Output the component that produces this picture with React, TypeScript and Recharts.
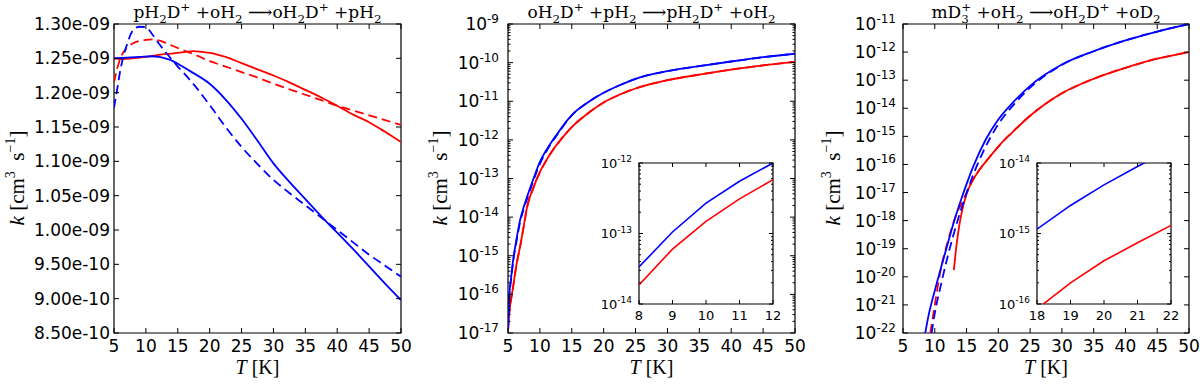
import React from 'react';
import { LineChart, Line, XAxis, YAxis, ReferenceArea } from 'recharts';

type Pt = [number, number];

// left panel: pH2D+ + oH2 -> oH2D+ + pH2 (linear k)
const p1BlueSolid: Pt[] = [
  [5, 1.25e-9], [7, 1.251e-9], [9, 1.252e-9], [11, 1.253e-9], [12, 1.252e-9], [13, 1.25e-9],
  [14, 1.247e-9], [15, 1.242e-9], [17, 1.231e-9], [20, 1.213e-9], [22.5, 1.19e-9], [25, 1.162e-9],
  [27.5, 1.13e-9], [30, 1.097e-9], [32.5, 1.07e-9], [35, 1.045e-9], [37.5, 1.02e-9], [40, 0.996e-9],
  [42.5, 0.972e-9], [45, 0.947e-9], [47.5, 0.922e-9], [50, 0.898e-9],
];
const p1BlueDash: Pt[] = [
  [5, 1.178e-9], [5.5, 1.205e-9], [6, 1.233e-9], [7, 1.269e-9], [8, 1.291e-9], [9, 1.296e-9],
  [10, 1.2955e-9], [11, 1.285e-9], [12, 1.272e-9], [13, 1.26e-9], [14, 1.249e-9], [15, 1.238e-9],
  [16, 1.228e-9], [17.5, 1.212e-9], [20, 1.182e-9], [22.5, 1.15e-9], [25, 1.121e-9], [27.5, 1.096e-9],
  [30, 1.073e-9], [32.5, 1.054e-9], [35, 1.036e-9], [37.5, 1.018e-9], [40, 1.0e-9], [42.5, 0.982e-9],
  [45, 0.964e-9], [47.5, 0.948e-9], [50, 0.932e-9],
];
const p1RedSolid: Pt[] = [
  [5, 1.25e-9], [6, 1.249e-9], [8, 1.25e-9], [10, 1.252e-9], [12, 1.255e-9], [14, 1.257e-9],
  [16, 1.259e-9], [17.5, 1.2605e-9], [19, 1.259e-9], [20, 1.258e-9], [22.5, 1.252e-9], [25, 1.243e-9],
  [27.5, 1.234e-9], [30, 1.225e-9], [32.5, 1.215e-9], [35, 1.204e-9], [37.5, 1.193e-9], [40, 1.181e-9],
  [42.5, 1.168e-9], [45, 1.157e-9], [47.5, 1.143e-9], [50, 1.128e-9],
];
const p1RedDash: Pt[] = [
  [5, 1.215e-9], [5.5, 1.235e-9], [6, 1.25e-9], [7, 1.265e-9], [8, 1.272e-9], [9, 1.2755e-9],
  [10, 1.277e-9], [11, 1.2775e-9], [12, 1.276e-9], [13, 1.273e-9], [14, 1.269e-9], [15, 1.265e-9],
  [17.5, 1.256e-9], [20, 1.246e-9], [22.5, 1.238e-9], [25, 1.23e-9], [27.5, 1.222e-9], [30, 1.213e-9],
  [32.5, 1.205e-9], [35, 1.197e-9], [37.5, 1.189e-9], [40, 1.181e-9], [42.5, 1.174e-9], [45, 1.167e-9],
  [47.5, 1.16e-9], [50, 1.153e-9],
];
const p1Ticks = [8.5e-10, 9.0e-10, 9.5e-10, 1.0e-9, 1.05e-9, 1.1e-9, 1.15e-9, 1.2e-9, 1.25e-9, 1.3e-9];
const p1TickLabels = ['8.50e-10', '9.00e-10', '9.50e-10', '1.00e-09', '1.05e-09', '1.10e-09', '1.15e-09', '1.20e-09', '1.25e-09', '1.30e-09'];

// middle panel: oH2D+ + pH2 -> pH2D+ + oH2
const p2Blue: Pt[] = [
  [5, 1.26e-17], [5.2, 8.9e-17], [5.5, 2.8e-16], [5.8, 7.6e-16], [6.3, 2.5e-15], [6.9, 8.5e-15],
  [7.5, 1.9e-14], [8, 3.4e-14], [9, 1.0e-13], [10, 2.7e-13], [11, 5.4e-13], [12, 9.8e-13],
  [13, 1.66e-12], [14, 2.8e-12], [15, 4.4e-12], [17.5, 9.3e-12], [20, 1.66e-11], [22.5, 2.6e-11],
  [25, 3.8e-11], [30, 6.0e-11], [35, 8.1e-11], [40, 1.07e-10], [45, 1.38e-10], [50, 1.7e-10],
];
const p2BlueDash: Pt[] = [
  [5, 1.26e-17], [5.2, 8.0e-17], [5.5, 2.5e-16], [5.8, 6.8e-16], [6.3, 2.2e-15], [6.9, 7.4e-15],
  [7.5, 1.7e-14], [8, 3.0e-14], [9, 8.9e-14], [10, 2.4e-13], [11, 5.0e-13], [12, 9.2e-13],
  [13, 1.58e-12], [14, 2.7e-12], [15, 4.3e-12], [17.5, 9.3e-12], [20, 1.66e-11], [22.5, 2.6e-11],
  [25, 3.8e-11], [30, 6.0e-11], [35, 8.1e-11], [40, 1.07e-10], [45, 1.38e-10], [50, 1.7e-10],
];
const p2Red: Pt[] = [
  [5, 1.12e-17], [5.2, 3.3e-17], [5.5, 7.9e-17], [5.8, 1.58e-16], [6.3, 5.6e-16], [6.9, 1.74e-15],
  [7.5, 6.3e-15], [8, 1.86e-14], [9, 5.9e-14], [10, 1.48e-13], [11, 2.95e-13], [12, 5.4e-13],
  [13, 8.9e-13], [14, 1.41e-12], [15, 2.14e-12], [17.5, 4.8e-12], [20, 9.3e-12], [22.5, 1.48e-11],
  [25, 2.14e-11], [30, 3.5e-11], [35, 4.9e-11], [40, 6.6e-11], [45, 8.5e-11], [50, 1.05e-10],
];
const p2RedDash: Pt[] = [
  [5, 1.12e-17], [5.2, 3.2e-17], [5.5, 7.6e-17], [5.8, 1.52e-16], [6.3, 5.4e-16], [6.9, 1.7e-15],
  [7.5, 6.1e-15], [8, 1.8e-14], [9, 5.8e-14], [10, 1.45e-13], [11, 2.9e-13], [12, 5.3e-13],
  [13, 8.9e-13], [14, 1.41e-12], [15, 2.14e-12], [17.5, 4.8e-12], [20, 9.3e-12], [22.5, 1.48e-11],
  [25, 2.14e-11], [30, 3.5e-11], [35, 4.9e-11], [40, 6.6e-11], [45, 8.5e-11], [50, 1.05e-10],
];
const p2Exps = [-17, -16, -15, -14, -13, -12, -11, -10, -9];

// middle inset (T = 8..12)
const in2Blue: Pt[] = [[8, 3.35e-14], [9, 1.05e-13], [10, 2.7e-13], [11, 5.5e-13], [12, 1.0e-12]];
const in2Red: Pt[] = [[8, 1.86e-14], [9, 6.0e-14], [10, 1.49e-13], [11, 3.1e-13], [12, 5.8e-13]];
const in2Exps = [-14, -13, -12];

// right panel: mD3+ + oH2 -> oH2D+ + oD2
const p3Blue: Pt[] = [
  [8.5, 1.0e-22], [9, 4.0e-22], [10, 3.2e-21], [11, 2.2e-20], [12, 1.4e-19], [13, 8.9e-19],
  [14, 4.5e-18], [15, 2.0e-17], [16, 7.9e-17], [18, 7.6e-16], [20, 4.0e-15], [22.5, 1.8e-14],
  [25, 6.3e-14], [30, 3.6e-13], [35, 1.07e-12], [40, 2.6e-12], [45, 5.4e-12], [50, 1.0e-11],
];
const p3BlueDash: Pt[] = [
  [9.5, 1.0e-22], [10, 5.0e-22], [11, 5.6e-21], [12, 5.0e-20], [13, 3.5e-19], [14, 2.0e-18],
  [15, 9.5e-18], [16, 4.0e-17], [17.5, 2.5e-16], [20, 2.7e-15], [22.5, 1.41e-14], [25, 5.4e-14],
  [30, 3.5e-13], [35, 1.07e-12], [40, 2.6e-12], [45, 5.4e-12], [50, 1.0e-11],
];
const p3Red: Pt[] = [
  [13, 1.74e-20], [13.3, 7.9e-20], [13.7, 4.0e-19], [14.2, 1.78e-18], [15, 8.9e-18], [16, 2.8e-17],
  [17, 6.3e-17], [18.5, 1.7e-16], [20, 4.3e-16], [21, 7.6e-16], [22, 1.26e-15], [25, 5.4e-15],
  [30, 3.4e-14], [35, 1.12e-13], [40, 2.75e-13], [45, 5.8e-13], [50, 1.0e-12],
];
const p3RedDash: Pt[] = [
  [9.3, 1.0e-22], [10, 1.0e-21], [10.8, 1.26e-20], [12.1, 2.0e-19], [13.7, 2.4e-18], [14.5, 5.4e-18],
  [15, 1.0e-17], [16, 2.8e-17], [17, 6.3e-17], [18.5, 1.7e-16], [20, 4.3e-16], [21, 7.6e-16],
  [22, 1.26e-15], [25, 5.4e-15], [30, 3.4e-14], [35, 1.12e-13], [40, 2.75e-13], [45, 5.8e-13], [50, 1.0e-12],
];
const p3Exps = [-22, -21, -20, -19, -18, -17, -16, -15, -14, -13, -12, -11];

// right inset (T = 18..22)
const in3Blue: Pt[] = [[18, 1.15e-15], [19, 2.5e-15], [20, 4.9e-15], [21, 8.9e-15], [22, 1.6e-14]];
const in3Red: Pt[] = [[18, 8.5e-17], [19, 2.0e-16], [20, 4.1e-16], [21, 7.4e-16], [22, 1.3e-15]];
const in3Exps = [-16, -15, -14];

const mainXTicks = [5, 10, 15, 20, 25, 30, 35, 40, 45, 50];

const BLUE = '#0000ff';
const RED = '#ff0000';
const SANS = 'DejaVu Sans, sans-serif';
const SERIF = 'Liberation Serif, DejaVu Serif, serif';
const TITLE_FONT = 'DejaVu Serif, serif';

const toRows = (pts: Pt[]) => pts.map(([T, k]) => ({ T, k }));
const decades = (exps: number[]) => exps.map((e) => Math.pow(10, e));
const minorTicks = (exps: number[]) =>
  exps.slice(0, -1).flatMap((e) => [2, 3, 4, 5, 6, 7, 8, 9].map((m) => m * Math.pow(10, e)));

type Series = { pts: Pt[]; color: string; dashed?: boolean; width?: number; linear?: boolean };

type PanelProps = {
  left: number; top: number; plotW: number; plotH: number; yW: number; mt: number; xH: number; mr: number;
  xDomain: [number, number]; xTicks: number[];
  yDomain: [number, number]; log: boolean; yTicks: number[]; yMinor: number[]; yLabels: string[];
  series: Series[];
  font: number; supFont: number; majorLen: number; minorLen: number; yGap: number; xBase: number;
  white?: boolean;
};

function Panel(p: PanelProps) {
  const box = { left: p.yW, right: p.yW + p.plotW, top: p.mt, bottom: p.mt + p.plotH };
  const width = p.yW + p.plotW + p.mr;
  const height = p.mt + p.plotH + p.xH;
  const allY = [...p.yTicks, ...p.yMinor].sort((a, b) => a - b);

  const yTick = (props: any) => {
    const { y, payload } = props;
    const idx = p.yTicks.findIndex((m) => Math.abs(payload.value / m - 1) < 1e-6);
    const len = idx >= 0 ? p.majorLen : p.minorLen;
    return (
      <g>
        <line x1={box.left} x2={box.left + len} y1={y} y2={y} stroke="#000" strokeWidth={1} />
        <line x1={box.right - len} x2={box.right} y1={y} y2={y} stroke="#000" strokeWidth={1} />
        {idx >= 0 && (
          <text x={box.left - p.yGap} y={y + p.font * 0.36} textAnchor="end" fontFamily={SANS} fontSize={p.font} fill="#000">
            {p.log ? '10' : p.yLabels[idx]}
            {p.log && (
              <tspan dy={-p.font * 0.42} fontSize={p.supFont}>{p.yLabels[idx]}</tspan>
            )}
          </text>
        )}
      </g>
    );
  };

  const xTick = (props: any) => {
    const { x, payload } = props;
    return (
      <g>
        <line x1={x} x2={x} y1={box.bottom} y2={box.bottom - p.majorLen} stroke="#000" strokeWidth={1} />
        <line x1={x} x2={x} y1={box.top} y2={box.top + p.majorLen} stroke="#000" strokeWidth={1} />
        <text x={x} y={box.bottom + p.xBase} textAnchor="middle" fontFamily={SANS} fontSize={p.font} fill="#000">
          {payload.value}
        </text>
      </g>
    );
  };

  return (
    <>
      {p.white && (
        <div style={{ position: 'absolute', left: p.left, top: p.top, width: p.plotW, height: p.plotH, background: '#fff' }} />
      )}
      <div style={{ position: 'absolute', left: p.left - p.yW, top: p.top - p.mt }}>
        <LineChart width={width} height={height} margin={{ top: p.mt, right: p.mr, bottom: 0, left: 0 }}>
          <XAxis dataKey="T" type="number" domain={p.xDomain} ticks={p.xTicks} interval={0} allowDataOverflow
            tick={xTick} tickLine={false} axisLine={false} height={p.xH} />
          <YAxis type="number" scale={p.log ? 'log' : 'linear'} domain={p.yDomain} ticks={allY} interval={0}
            allowDataOverflow tick={yTick} tickLine={false} axisLine={false} width={p.yW} />
          <ReferenceArea x1={p.xDomain[0]} x2={p.xDomain[1]} y1={p.yDomain[0]} y2={p.yDomain[1]}
            fill="none" stroke="#000" strokeWidth={1.2} ifOverflow="visible" />
          {p.series.map((s, i) => (
            <Line key={i} data={toRows(s.pts)} dataKey="k" type={s.linear ? 'linear' : 'monotone'}
              stroke={s.color} strokeWidth={s.width ?? 1.8} strokeDasharray={s.dashed ? '9 5' : undefined}
              dot={false} activeDot={false} isAnimationActive={false} />
          ))}
        </LineChart>
      </div>
    </>
  );
}

type Seg = [string, 'n' | 'b' | 'p', number?];

function Chem({ x, y, segs, size }: { x: number; y: number; segs: Seg[]; size: number }) {
  let shift = 0;
  const parts = segs.map(([t, kind, dx], i) => {
    const target = kind === 'b' ? size * 0.3 : kind === 'p' ? -size * 0.42 : 0;
    const el = (
      <tspan key={i} dy={target - shift} dx={dx ?? 0} fontSize={kind === 'n' ? size : size * 0.7}>{t}</tspan>
    );
    shift = target;
    return el;
  });
  return (
    <text x={x} y={y} textAnchor="middle" fontFamily={TITLE_FONT} fontSize={size} fill="#000" style={{ whiteSpace: 'pre' }}>
      {parts}
    </text>
  );
}

const title1: Seg[] = [['pH', 'n'], ['2', 'b'], ['D', 'n'], ['+', 'p'], [' +oH', 'n'], ['2', 'b'], [' \u27F6oH', 'n'], ['2', 'b'], ['D', 'n'], ['+', 'p'], [' +pH', 'n'], ['2', 'b']];
const title2: Seg[] = [['oH', 'n'], ['2', 'b'], ['D', 'n'], ['+', 'p'], [' +pH', 'n'], ['2', 'b'], [' \u27F6pH', 'n'], ['2', 'b'], ['D', 'n'], ['+', 'p'], [' +oH', 'n'], ['2', 'b']];
const title3: Seg[] = [['mD', 'n'], ['3', 'b'], ['+', 'p', -7.5], [' +oH', 'n'], ['2', 'b'], [' \u27F6oH', 'n'], ['2', 'b'], ['D', 'n'], ['+', 'p'], [' +oD', 'n'], ['2', 'b']];

function YLabel({ x, y }: { x: number; y: number }) {
  return (
    <text x={x} y={y} transform={`rotate(-90 ${x} ${y})`} textAnchor="middle" fontFamily={SERIF} fontSize={21} fill="#000" style={{ whiteSpace: 'pre' }}>
      <tspan fontStyle="italic">k</tspan>
      <tspan> [cm</tspan>
      <tspan dy={-9} fontSize={14}>3</tspan>
      <tspan dy={9}>  s</tspan>
      <tspan dy={-9} fontSize={14}>{'\u22121'}</tspan>
      <tspan dy={9}>]</tspan>
    </text>
  );
}

function XLabel({ x }: { x: number }) {
  return (
    <text x={x} y={374} textAnchor="middle" fontFamily={SERIF} fontSize={20} fill="#000" style={{ whiteSpace: 'pre' }}>
      <tspan fontStyle="italic">T</tspan>
      <tspan> [K]</tspan>
    </text>
  );
}

const mainCommon = { top: 24, plotH: 309, mt: 24, xH: 53, mr: 22, font: 17, supFont: 12, majorLen: 5, minorLen: 2.5, xBase: 19 };
const insetCommon = { top: 163, plotH: 141, mt: 8, xH: 26, mr: 8, font: 13, supFont: 9, majorLen: 4, minorLen: 2, xBase: 16, yGap: 7, white: true };

export default function App() {
  return (
    <div style={{ position: 'relative', width: 1200, height: 386, background: '#fff', overflow: 'hidden' }}>
      <style>{'body{margin:0}'}</style>
      <Panel {...mainCommon} left={114} plotW={287} yW={110} xDomain={[5, 50]} xTicks={mainXTicks}
        yDomain={[8.5e-10, 1.3e-9]} log={false} yTicks={p1Ticks} yMinor={[]} yLabels={p1TickLabels} yGap={4}
        series={[
          { pts: p1RedSolid, color: RED },
          { pts: p1RedDash, color: RED, dashed: true },
          { pts: p1BlueSolid, color: BLUE },
          { pts: p1BlueDash, color: BLUE, dashed: true },
        ]} />
      <Panel {...mainCommon} left={508} plotW={287} yW={100} xDomain={[5, 50]} xTicks={mainXTicks}
        yDomain={[1e-17, 1e-9]} log yTicks={decades(p2Exps)} yMinor={minorTicks(p2Exps)} yLabels={p2Exps.map(String)} yGap={9}
        series={[
          { pts: p2Red, color: RED },
          { pts: p2RedDash, color: RED, dashed: true },
          { pts: p2Blue, color: BLUE },
          { pts: p2BlueDash, color: BLUE, dashed: true },
        ]} />
      <Panel {...mainCommon} left={903} plotW={286} yW={100} xDomain={[5, 50]} xTicks={mainXTicks}
        yDomain={[1e-22, 1e-11]} log yTicks={decades(p3Exps)} yMinor={[]} yLabels={p3Exps.map(String)} yGap={7}
        series={[
          { pts: p3Red, color: RED },
          { pts: p3RedDash, color: RED, dashed: true },
          { pts: p3Blue, color: BLUE },
          { pts: p3BlueDash, color: BLUE, dashed: true },
        ]} />
      <Panel {...insetCommon} left={639} plotW={134} yW={46} xDomain={[8, 12]} xTicks={[8, 9, 10, 11, 12]}
        yDomain={[1e-14, 1e-12]} log yTicks={decades(in2Exps)} yMinor={minorTicks(in2Exps)} yLabels={in2Exps.map(String)}
        series={[
          { pts: in2Blue, color: BLUE, width: 1.6, linear: true },
          { pts: in2Red, color: RED, width: 1.6, linear: true },
        ]} />
      <Panel {...insetCommon} left={1037} plotW={134} yW={46} xDomain={[18, 22]} xTicks={[18, 19, 20, 21, 22]}
        yDomain={[1e-16, 1e-14]} log yTicks={decades(in3Exps)} yMinor={minorTicks(in3Exps)} yLabels={in3Exps.map(String)}
        series={[
          { pts: in3Blue, color: BLUE, width: 1.6, linear: true },
          { pts: in3Red, color: RED, width: 1.6, linear: true },
        ]} />
      <svg width={1200} height={386} style={{ position: 'absolute', left: 0, top: 0, pointerEvents: 'none' }}>
        <Chem x={257.5} y={18} segs={title1} size={17} />
        <Chem x={651.5} y={18} segs={title2} size={17} />
        <Chem x={1046} y={18} segs={title3} size={17} />
        <YLabel x={24} y={178} />
        <YLabel x={447} y={178} />
        <YLabel x={840} y={178} />
        <XLabel x={257.5} />
        <XLabel x={651.5} />
        <XLabel x={1046} />
      </svg>
    </div>
  );
}
